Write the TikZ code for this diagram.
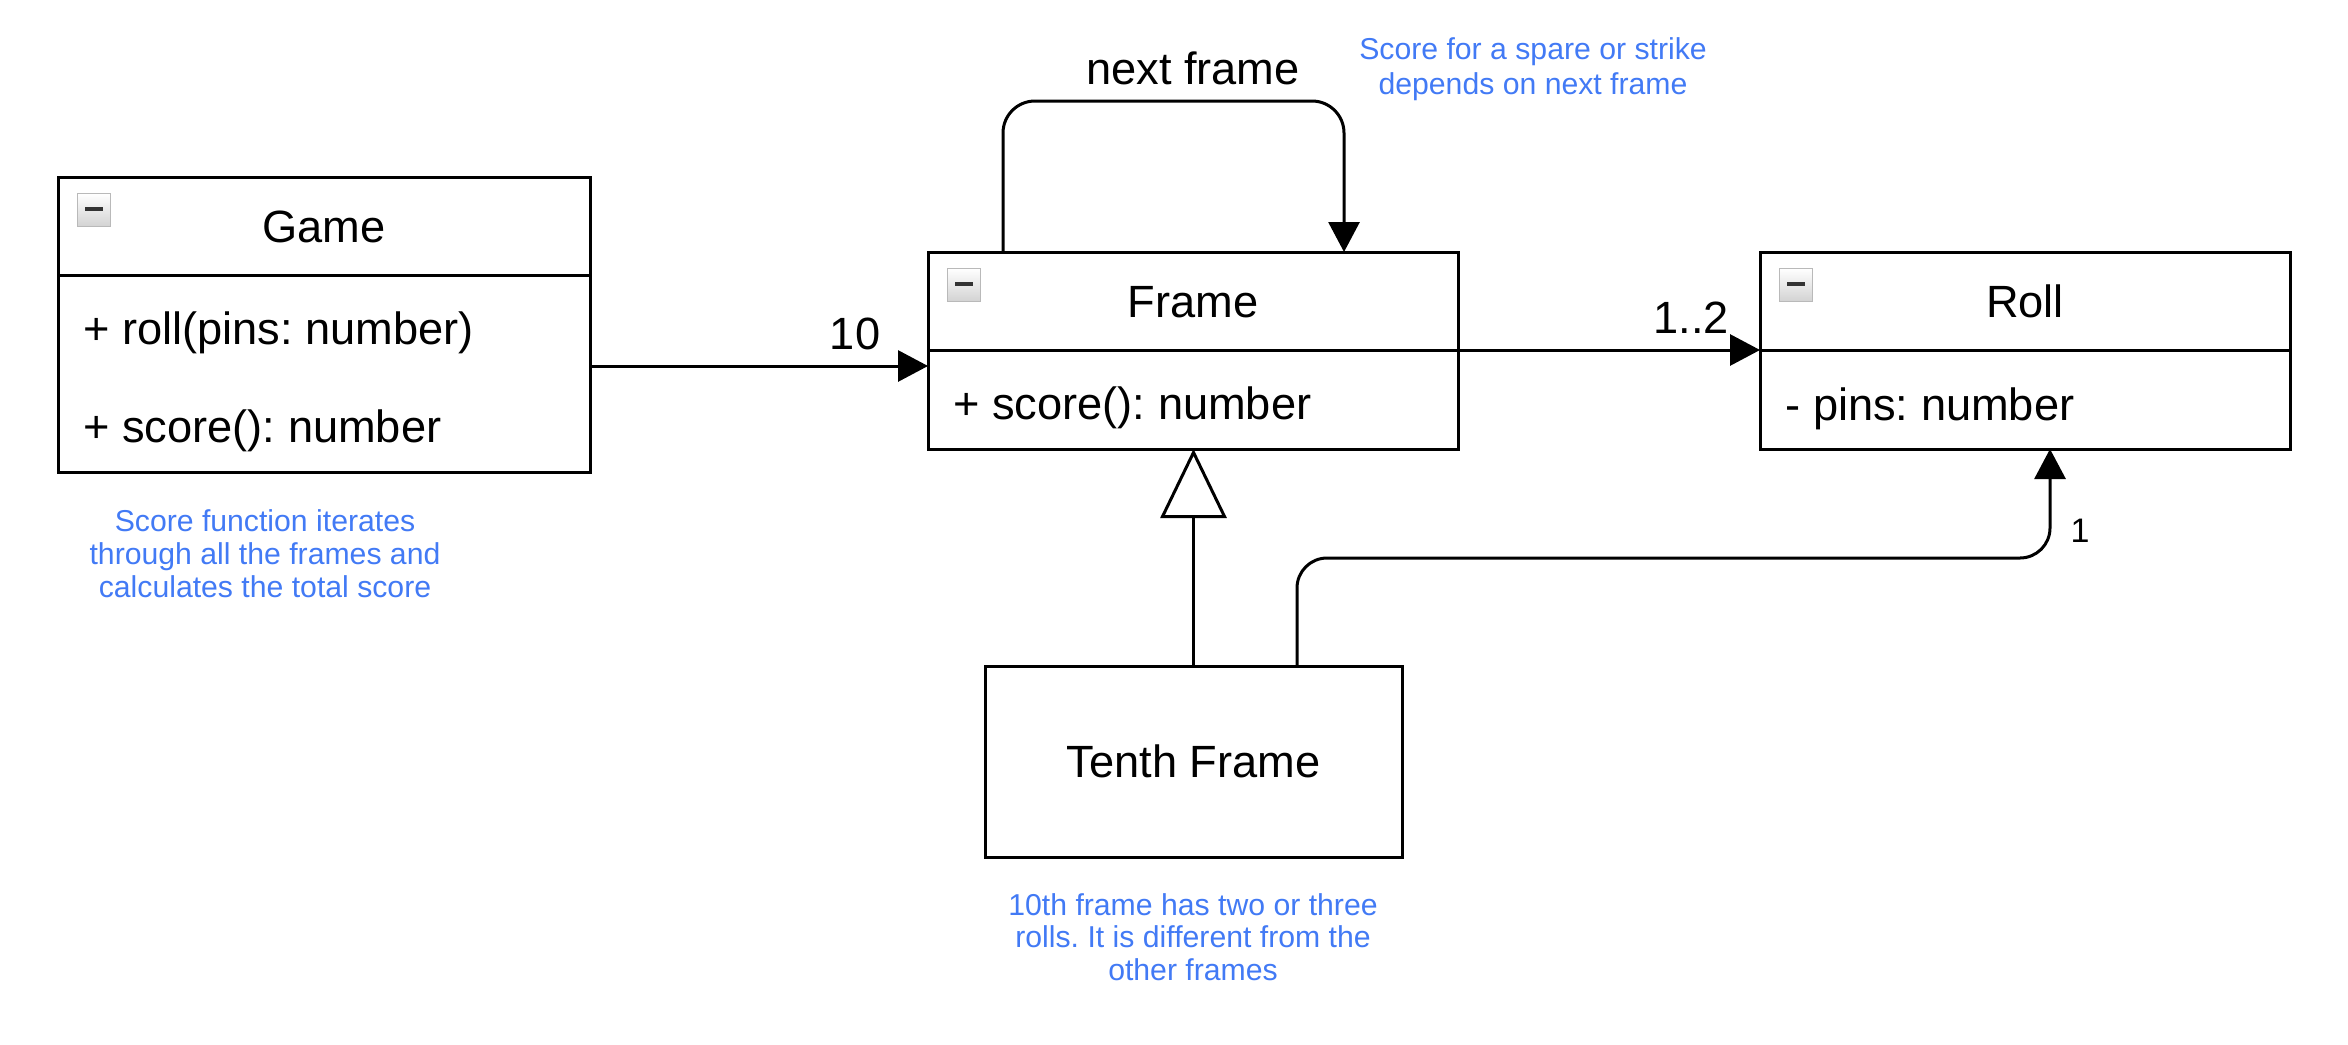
\documentclass[tikz,border=0pt]{standalone}
\usepackage{fontspec}
\setmainfont{Liberation Sans}
\usetikzlibrary{arrows.meta}
\definecolor{noteblue}{RGB}{66,122,245}
\frenchspacing
\begin{document}
\begin{tikzpicture}[x=0.5pt,y=-0.5pt,
  umlbox/.style={draw, line width=1.5pt, rectangle, inner sep=0pt, outer sep=0pt, anchor=north west, fill=white},
  lbl/.style={inner sep=0pt, text height=16.2pt, text depth=0pt, font=\fontsize{22.6}{27}\selectfont\frenchspacing},
  note/.style={inner sep=0pt, align=center, text=noteblue, font=\fontsize{15.1}{16.5}\selectfont\frenchspacing},
  assoc/.style={line width=1.5pt, -{Triangle[length=15pt,width=15.5pt]}},
  gen/.style={line width=1.5pt, -{Triangle[open,length=34.5pt,width=33pt,fill=white]}},
  icon/.style={draw=gray!55, line width=0.8pt, minimum size=16.5pt, inner sep=0pt, top color=white, bottom color=gray!35,
    path picture={\draw[line width=1.7pt, black!80] ([xshift=3.8pt,yshift=0.6pt]path picture bounding box.west) -- ([xshift=-3.8pt,yshift=0.6pt]path picture bounding box.east);}}
]
\useasboundingbox (0,0) rectangle (2348,1044);

% Game
\node[umlbox, minimum width=266pt, minimum height=49pt] (gameH) at (58,177) {};
\node[umlbox, minimum width=266pt, minimum height=98.5pt] (gameB) at (58,275) {};
\node[icon] (gameI) at (94,210) {};
\node[lbl] (gameT) at (gameH.center) {Game};
\node[lbl, anchor=west] (gameR) at (83,328) {+ roll(pins: number)};
\node[lbl, anchor=west] (gameS) at (83,426) {+ score(): number};

% Frame
\node[umlbox, minimum width=265pt, minimum height=49pt] (frameH) at (928,252) {};
\node[umlbox, minimum width=265pt, minimum height=49.5pt] (frameB) at (928,350) {};
\node[icon] (frameI) at (964,285) {};
\node[lbl] (frameT) at (frameH.center) {Frame};
\node[lbl, anchor=west] (frameS) at (953,403) {+ score(): number};

% Roll
\node[umlbox, minimum width=265pt, minimum height=49pt] (rollH) at (1760,252) {};
\node[umlbox, minimum width=265pt, minimum height=49.5pt] (rollB) at (1760,350) {};
\node[icon] (rollI) at (1796,285) {};
\node[lbl] (rollT) at (rollH.center) {Roll};
\node[lbl, anchor=west] (rollP) at (1785,404) {- pins: number};

% Tenth Frame
\node[umlbox, minimum width=208.5pt, minimum height=95.5pt] (tenth) at (985,666) {};
\node[lbl] (tenthT) at (tenth.center) {Tenth Frame};

% connectors
\draw[assoc] ([yshift=3.75pt]gameB.east) -- ([yshift=3.75pt]gameB.east -| frameB.west);
\draw[assoc] (frameH.south east) -- (rollH.south west);
\draw[assoc, rounded corners=16pt] ([xshift=37.5pt]frameH.north west) -- ++(0,-151) -| ([xshift=208pt]frameH.north west);
\draw[gen] (tenth.north) -- (tenth.north |- frameB.south);
\draw[assoc, rounded corners=15pt] ([xshift=156pt]tenth.north west) -- ++(0,-108) -| ([xshift=12.5pt]rollB.south);

% labels
\node[lbl] (m10) at (855,333) {10};
\node[lbl] (m12) at (1691,317) {1..2};
\node[lbl] (nextl) at (1193,68) {next frame};
\node[lbl, text height=12.2pt, font=\fontsize{17}{20}\selectfont] (m1) at (2080,530) {1};

% notes
\node[note] (n1) at (265,554) {Score function iterates\\through all the frames and\\calculates the total score};
\node[note, font=\fontsize{15.1}{17.5}\selectfont\frenchspacing] (n2) at (1533,69) {Score for a spare or strike\\depends on next frame};
\node[note, font=\fontsize{15.1}{16.1}\selectfont\frenchspacing] (n3) at (1193,937) {10th frame has two or three\\rolls. It is different from the\\other frames};
\end{tikzpicture}
\end{document}
